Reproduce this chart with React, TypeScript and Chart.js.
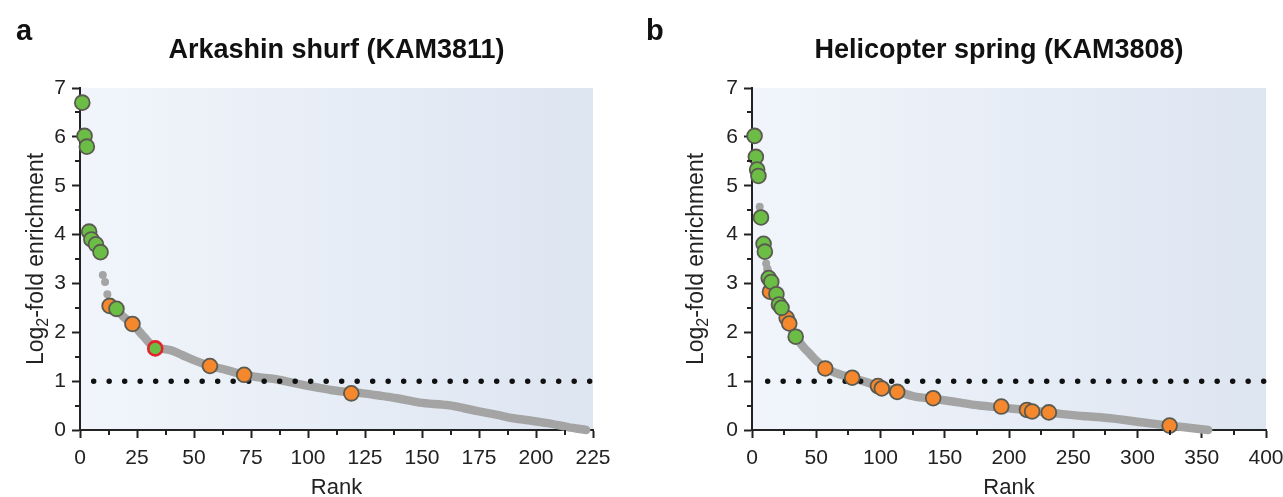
import React, { useEffect, useRef } from "react";
import { Chart, registerables } from "chart.js";
Chart.register(...registerables);

const FONT = "'Liberation Sans', Arial, Helvetica, sans-serif";

// ---------- Panel a: Arkashin shurf (KAM3811) ----------
const aTitle = "Arkashin shurf (KAM3811)";
const aLetter = "a";
const aXMax = 225;
const aXStep = 25;
const aXMinor = 12.5;
const aGreenRank = [1, 2, 3, 4, 5, 7, 9, 16];
const aGreenVal = [6.7, 6.02, 5.8, 4.06, 3.9, 3.8, 3.64, 2.48];
const aRedRank = [33];
const aRedVal = [1.67];
const aOrangeRank = [13, 23, 57, 72, 119];
const aOrangeVal = [2.54, 2.17, 1.31, 1.13, 0.75];
const aGreyDotRank = [10, 11, 12];
const aGreyDotVal = [3.17, 3.03, 2.78];
const aBandRank = [13, 16, 19, 23, 28, 33, 36, 40, 45, 50, 57, 64, 72, 80, 86, 95, 104, 110, 119, 124, 132, 139, 149, 161, 168, 175, 183, 190, 198, 205, 214, 222];
const aBandVal = [2.56, 2.47, 2.32, 2.17, 1.91, 1.68, 1.66, 1.63, 1.53, 1.43, 1.31, 1.23, 1.13, 1.07, 1.04, 0.95, 0.87, 0.82, 0.77, 0.75, 0.7, 0.65, 0.56, 0.51, 0.45, 0.38, 0.31, 0.24, 0.19, 0.14, 0.06, 0.0];
const aCutRank = [6, 225];

// ---------- Panel b: Helicopter spring (KAM3808) ----------
const bTitle = "Helicopter spring (KAM3808)";
const bLetter = "b";
const bXMax = 400;
const bXStep = 50;
const bXMinor = 25;
const bGreenRank = [2, 3, 4, 5, 7, 9, 10, 13, 15, 19, 21, 23, 34];
const bGreenVal = [6.02, 5.59, 5.33, 5.2, 4.35, 3.81, 3.65, 3.11, 3.03, 2.78, 2.57, 2.5, 1.91];
const bRedRank: number[] = [];
const bRedVal: number[] = [];
const bOrangeRank = [14, 27, 29, 57, 78, 98, 101, 113, 141, 194, 214, 218, 231, 325];
const bOrangeVal = [2.83, 2.29, 2.18, 1.26, 1.07, 0.9, 0.85, 0.78, 0.65, 0.48, 0.41, 0.38, 0.36, 0.09];
const bGreyDotRank = [6, 11];
const bGreyDotVal = [4.57, 3.41];
const bBandRank = [12, 14, 17, 20, 23, 27, 30, 35, 40, 45, 50, 57, 66, 78, 89, 100, 113, 126, 141, 152, 162, 177, 194, 214, 231, 240, 260, 279, 300, 318, 335, 355];
const bBandVal = [3.3, 2.95, 2.8, 2.65, 2.47, 2.27, 2.12, 1.88, 1.7, 1.56, 1.42, 1.27, 1.16, 1.06, 0.98, 0.88, 0.79, 0.69, 0.64, 0.6, 0.56, 0.5, 0.46, 0.41, 0.36, 0.33, 0.28, 0.24, 0.17, 0.11, 0.06, 0.0];
const bCutRank = [12.2, 400];

// shared
const yMax = 7;
const yMinor = 0.5;
const cutoff = 1;
const yTitleMain = "Log";
const yTitleSub = "2";
const yTitleRest = "-fold enrichment";
const xTitle = "Rank";

const GREEN = "#6cbd46";
const ORANGE = "#f5872c";
const EDGE = "#5a5a50";
const RED = "#e3232b";
const GREY = "#a4a4a4";
const AXIS = "#222222";

type Panel = {
  title: string; letter: string; xMax: number; xStep: number; xMinor: number;
  greenRank: number[]; greenVal: number[]; redRank: number[]; redVal: number[];
  orangeRank: number[]; orangeVal: number[]; greyDotRank: number[]; greyDotVal: number[];
  bandRank: number[]; bandVal: number[]; cutRank: number[];
  canvasW: number; yAxisW: number; padRight: number; yTitleX: number; letterX: number; titleDx: number;
};

const pts = (r: number[], v: number[]) => r.map((x, i) => ({ x, y: v[i] }));

function makeChart(canvas: HTMLCanvasElement, p: Panel) {
  const deco = {
    id: "deco",
    beforeDraw(chart: any) {
      const { ctx, chartArea: a } = chart;
      const g = ctx.createLinearGradient(a.left, 0, a.right, 0);
      g.addColorStop(0, "#f1f5fb");
      g.addColorStop(1, "#dde5f1");
      ctx.save();
      ctx.fillStyle = g;
      ctx.fillRect(a.left, a.top, a.right - a.left, a.bottom - a.top);
      ctx.restore();
    },
    afterDraw(chart: any) {
      const { ctx, chartArea: a } = chart;
      const xs = chart.scales.x;
      const ys = chart.scales.y;
      ctx.save();
      ctx.strokeStyle = AXIS;
      ctx.lineWidth = 2;
      // minor ticks
      for (let v = p.xMinor; v < p.xMax; v += p.xStep) {
        const px = Math.round(xs.getPixelForValue(v));
        ctx.beginPath();
        ctx.moveTo(px, a.bottom);
        ctx.lineTo(px, a.bottom + 5);
        ctx.stroke();
      }
      for (let v = yMinor; v < yMax; v += 1) {
        const py = Math.round(ys.getPixelForValue(v));
        ctx.beginPath();
        ctx.moveTo(a.left, py);
        ctx.lineTo(a.left - 5, py);
        ctx.stroke();
      }
      // panel letter
      ctx.fillStyle = "#111";
      ctx.font = `bold 29px ${FONT}`;
      ctx.textAlign = "left";
      ctx.textBaseline = "alphabetic";
      ctx.fillText(p.letter, p.letterX, 40);
      // title
      ctx.font = `bold 27px ${FONT}`;
      ctx.textAlign = "center";
      ctx.fillText(p.title, (a.left + a.right) / 2 + p.titleDx, 58);
      // x title
      ctx.font = `22px ${FONT}`;
      ctx.fillStyle = "#222";
      ctx.fillText(xTitle, (a.left + a.right) / 2, 494);
      // y title with subscript
      const size = 23;
      const sub = 16;
      ctx.translate(p.yTitleX, (a.top + a.bottom) / 2);
      ctx.rotate(-Math.PI / 2);
      ctx.font = `${size}px ${FONT}`;
      const w1 = ctx.measureText(yTitleMain).width;
      const w3 = ctx.measureText(yTitleRest).width;
      ctx.font = `${sub}px ${FONT}`;
      const w2 = ctx.measureText(yTitleSub).width;
      let cx = -(w1 + w2 + w3) / 2;
      const base = size * 0.36;
      ctx.textAlign = "left";
      ctx.font = `${size}px ${FONT}`;
      ctx.fillText(yTitleMain, cx, base);
      cx += w1;
      ctx.font = `${sub}px ${FONT}`;
      ctx.fillText(yTitleSub, cx, base + 5);
      cx += w2;
      ctx.font = `${size}px ${FONT}`;
      ctx.fillText(yTitleRest, cx, base);
      ctx.restore();
    },
  };

  return new Chart(canvas, {
    type: "scatter",
    data: {
      datasets: [
        {
          label: "red",
          data: pts(p.redRank, p.redVal),
          pointRadius: 7,
          pointBackgroundColor: GREEN,
          pointBorderColor: RED,
          pointBorderWidth: 2.6,
          order: 0,
          clip: false,
        },
        {
          label: "green",
          data: pts(p.greenRank, p.greenVal),
          pointRadius: 7.4,
          pointBackgroundColor: GREEN,
          pointBorderColor: EDGE,
          pointBorderWidth: 1.8,
          order: 1,
          clip: false,
        },
        {
          label: "orange",
          data: pts(p.orangeRank, p.orangeVal),
          pointRadius: 7.4,
          pointBackgroundColor: ORANGE,
          pointBorderColor: EDGE,
          pointBorderWidth: 1.8,
          order: 2,
          clip: false,
        },
        {
          label: "cutoff",
          data: pts(p.cutRank, [cutoff, cutoff]),
          showLine: true,
          borderColor: "#111",
          borderWidth: 5.5,
          borderDash: [0, 15.5],
          borderCapStyle: "round",
          pointRadius: 0,
          order: 3,
          clip: false,
        },
        {
          label: "band",
          data: pts(p.bandRank, p.bandVal),
          showLine: true,
          borderColor: GREY,
          borderWidth: 8.5,
          borderCapStyle: "round",
          borderJoinStyle: "round",
          cubicInterpolationMode: "monotone",
          pointRadius: 0,
          order: 4,
          clip: false,
        },
        {
          label: "greyDots",
          data: pts(p.greyDotRank, p.greyDotVal),
          pointRadius: 4,
          pointBackgroundColor: GREY,
          pointBorderWidth: 0,
          order: 5,
          clip: false,
        },
      ],
    },
    options: {
      animation: false,
      responsive: false,
      events: [],
      layout: { padding: { left: 0, right: p.padRight, top: 88, bottom: 0 } },
      plugins: { legend: { display: false }, tooltip: { enabled: false }, title: { display: false } },
      scales: {
        x: {
          type: "linear",
          min: 0,
          max: p.xMax,
          afterFit: (s: any) => { s.height = 67; },
          ticks: { stepSize: p.xStep, color: AXIS, font: { family: FONT, size: 21 }, padding: 8, maxRotation: 0 },
          grid: { drawOnChartArea: false, drawTicks: true, tickLength: 8, tickColor: AXIS, tickWidth: 2 },
          border: { display: true, color: AXIS, width: 2 },
        },
        y: {
          type: "linear",
          min: 0,
          max: yMax,
          afterFit: (s: any) => { s.width = p.yAxisW; },
          ticks: { stepSize: 1, color: AXIS, font: { family: FONT, size: 21 }, padding: 6 },
          grid: { drawOnChartArea: false, drawTicks: true, tickLength: 8, tickColor: AXIS, tickWidth: 2 },
          border: { display: true, color: AXIS, width: 2 },
        },
      },
    },
    plugins: [deco],
  } as any);
}

const panelA: Panel = {
  title: aTitle, letter: aLetter, xMax: aXMax, xStep: aXStep, xMinor: aXMinor,
  greenRank: aGreenRank, greenVal: aGreenVal, redRank: aRedRank, redVal: aRedVal,
  orangeRank: aOrangeRank, orangeVal: aOrangeVal, greyDotRank: aGreyDotRank, greyDotVal: aGreyDotVal,
  bandRank: aBandRank, bandVal: aBandVal, cutRank: aCutRank,
  canvasW: 641, yAxisW: 80, padRight: 48, yTitleX: 35, letterX: 16, titleDx: 0,
};
const panelB: Panel = {
  title: bTitle, letter: bLetter, xMax: bXMax, xStep: bXStep, xMinor: bXMinor,
  greenRank: bGreenRank, greenVal: bGreenVal, redRank: bRedRank, redVal: bRedVal,
  orangeRank: bOrangeRank, orangeVal: bOrangeVal, greyDotRank: bGreyDotRank, greyDotVal: bGreyDotVal,
  bandRank: bBandRank, bandVal: bBandVal, cutRank: bCutRank,
  canvasW: 660, yAxisW: 111, padRight: 35, yTitleX: 54, letterX: 5, titleDx: -10,
};

function PanelChart({ p, left }: { p: Panel; left: number }) {
  const ref = useRef<HTMLCanvasElement>(null);
  useEffect(() => {
    if (!ref.current) return;
    const c = makeChart(ref.current, p);
    return () => c.destroy();
  }, []);
  return (
    <canvas
      ref={ref}
      width={p.canvasW}
      height={497}
      style={{ position: "absolute", left, top: 0, width: p.canvasW, height: 497 }}
    />
  );
}

export default function App() {
  return (
    <div style={{ position: "fixed", left: 0, top: 0, width: 1283, height: 497, overflow: "hidden", background: "#fff" }}>
      <PanelChart p={panelA} left={0} />
      <PanelChart p={panelB} left={641} />
    </div>
  );
}
